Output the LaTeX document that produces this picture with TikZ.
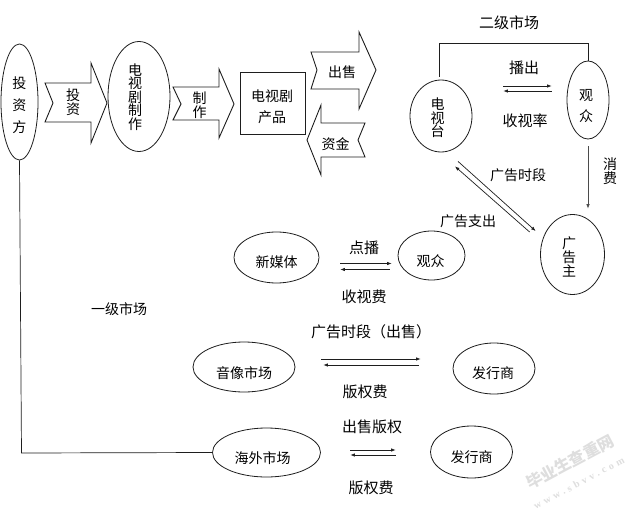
\documentclass[tikz,border=0pt]{standalone}
\usepackage{fontspec}
\usetikzlibrary{arrows.meta,shapes.geometric}
\newfontfamily\cjk{Noto Sans CJK SC}
\newfontfamily\wmfont[LetterSpace=35]{Liberation Serif}
\definecolor{ink}{HTML}{1E1E1E}
\definecolor{wm}{HTML}{DEDEDE}
\tikzset{
  oval/.style={ellipse,draw=ink,line width=0.8pt,inner sep=0pt,minimum width=2*#1},
  fat/.style={draw=ink,line width=0.9pt,fill=white,line join=miter},
  lab/.style={inner sep=0pt,text=black,align=center,font=\cjk\fontsize{14}{14}\selectfont},
  labb/.style={inner sep=0pt,text=black,align=center,font=\cjk\fontsize{15}{15}\selectfont},
  stack/.style={inner sep=0pt,text=black,align=center,font=\cjk\fontsize{14}{#1}\selectfont},
  link/.style={draw=ink,line width=0.7pt},
  flow/.style={draw=ink,line width=0.7pt,-{Latex[length=4.5pt,width=3.5pt]}},
  wmt/.style={inner sep=0pt,text=wm,rotate=28}
}
\begin{document}
\begin{tikzpicture}[x=1pt,y=-1pt]
\useasboundingbox (0,0) rectangle (639,513);
\fill[white] (0,0) rectangle (639,513);

% block arrows
\draw[fat] (45,83)--(91,83)--(91,63)--(107,103)--(91,143)--(91,122)--(45,122)--(53,103)--cycle;
\draw[fat] (173,87)--(219,87)--(219,69)--(234,104)--(219,138)--(219,120)--(173,120)--(181,104)--cycle;
\draw[fat] (311,52)--(359,52)--(359,32)--(376,70)--(359,109)--(359,89)--(311,89)--(317,70)--cycle;
\draw[fat] (321,105)--(321,123)--(365,123)--(358,140)--(365,157)--(321,157)--(321,175)--(307,140)--cycle;

% shapes
\node[oval=18.5pt,minimum height=116pt] (inv) at (19.5,102) {};
\node[oval=31pt,minimum height=110pt] (prod) at (139,96.5) {};
\node[draw=ink,line width=0.8pt,minimum width=65pt,minimum height=62pt,inner sep=0pt] (drama) at (272.5,103) {};
\node[oval=31pt,minimum height=72pt] (tv) at (441,116) {};
\node[oval=21pt,minimum height=78pt] (aud) at (588,100) {};
\node[oval=32pt,minimum height=80pt] (adv) at (572.5,254.5) {};
\node[oval=33.5pt,minimum height=49pt] (mid) at (431.5,255.5) {};
\node[oval=42.5pt,minimum height=51pt] (nm) at (276.5,257.5) {};
\node[oval=51pt,minimum height=50pt] (av) at (244,367) {};
\node[oval=41pt,minimum height=51pt] (da) at (494,368.5) {};
\node[oval=54pt,minimum height=49pt] (os) at (266.5,452.5) {};
\node[oval=41pt,minimum height=52pt] (db) at (471.5,452) {};

% labels inside shapes
\node[stack=22pt] (tinv) at (19.5,105) {投\\资\\方};
\node[stack=13.5pt] (tinvb) at (73,102) {投\\资};
\node[stack=13.5pt] (tprod) at (135,97) {电\\视\\剧\\制\\作};
\node[stack=13.5pt] (tmake) at (199.5,105) {制\\作};
\node[stack=21pt] (tdrama) at (272,106.5) {电视剧\\产品};
\node[lab] (tsell) at (342,72) {出售};
\node[lab] (tfund) at (335.5,144) {资金};
\node[stack=13.5pt] (ttv) at (437.5,118) {电\\视\\台};
\node[stack=21pt] (taud) at (586,106.5) {观\\众};
\node[stack=14pt] (tadv) at (569,257) {广\\告\\主};
\node[lab] (tmid) at (430.5,261) {观众};
\node[lab] (tnm) at (276.5,262) {新媒体};
\node[lab] (tav) at (244,373) {音像市场};
\node[lab] (tda) at (493,373) {发行商};
\node[lab] (tos) at (262.5,458) {海外市场};
\node[lab] (tdb) at (471.5,457) {发行商};

% connectors
\coordinate (topr) at (588,43);
\coordinate (corner) at (21.5,453);
\draw[link] ([xshift=-2pt,yshift=3pt]tv.north) |- (topr) -- (aud.north);
\draw[link] (inv.south) -- (corner) -- (os.west);
\draw[flow] ([xshift=31pt,yshift=30pt]tv.east) -- ([xshift=-15pt,yshift=14pt]aud.west);
\draw[flow] ([xshift=-15pt,yshift=9pt]aud.west) -- ([xshift=31pt,yshift=25pt]tv.east);
\draw[flow,draw=ink!80] ([yshift=-7pt]aud.south) -- ([yshift=5.5pt]aud.south |- adv.north);
\draw[flow] ([xshift=17pt,yshift=-9pt]tv.south) -- ([xshift=-4.5pt,yshift=23.5pt]adv.west);
\draw[flow] ([xshift=-10.5pt,yshift=22.5pt]adv.west) -- ([xshift=14pt,yshift=-14pt]tv.south);
\draw[flow] ([xshift=21pt,yshift=-6pt]nm.east) -- ([xshift=-6pt,yshift=-8pt]mid.west);
\draw[flow] ([xshift=-8pt,yshift=-14pt]mid.west) -- ([xshift=21pt,yshift=-12pt]nm.east);
\draw[flow] ([xshift=26pt,yshift=8pt]av.east) -- ([xshift=-32pt,yshift=9.5pt]da.west);
\draw[flow] ([xshift=-34pt,yshift=3.5pt]da.west) -- ([xshift=28pt,yshift=2pt]av.east);
\draw[flow] ([xshift=29.5pt,yshift=2.5pt]os.east) -- ([xshift=-34.5pt,yshift=2pt]db.west);
\draw[flow] ([xshift=-34.5pt,yshift=-3pt]db.west) -- ([xshift=29.5pt,yshift=-2.5pt]os.east);

% free labels
\node[labb] (l1) at (509,23) {二级市场};
\node[labb] (l2) at (524,68) {播出};
\node[labb] (l3) at (525,121) {收视率};
\node[lab] (l4) at (518,175) {广告时段};
\node[lab] (l5) at (468,221) {广告支出};
\node[stack=14pt] (l6) at (610,171) {消\\费};
\node[labb] (l7) at (364,248) {点播};
\node[labb] (l8) at (364,297) {收视费};
\node[labb] (l9) at (371,332) {广告时段（出售）};
\node[labb] (l10) at (365,392) {版权费};
\node[labb] (l11) at (372,427) {出售版权};
\node[labb] (l12) at (371,488) {版权费};
\node[lab] (l13) at (119,309) {一级市场};

% watermark
\node[wmt,font=\cjk\bfseries\fontsize{16}{16}\selectfont] (w1) at (570,462) {毕业生查重网};
\node[wmt,font=\wmfont\bfseries\fontsize{10}{10}\selectfont] (w2) at (579,483) {www.sbvv.com};
\end{tikzpicture}
\end{document}
